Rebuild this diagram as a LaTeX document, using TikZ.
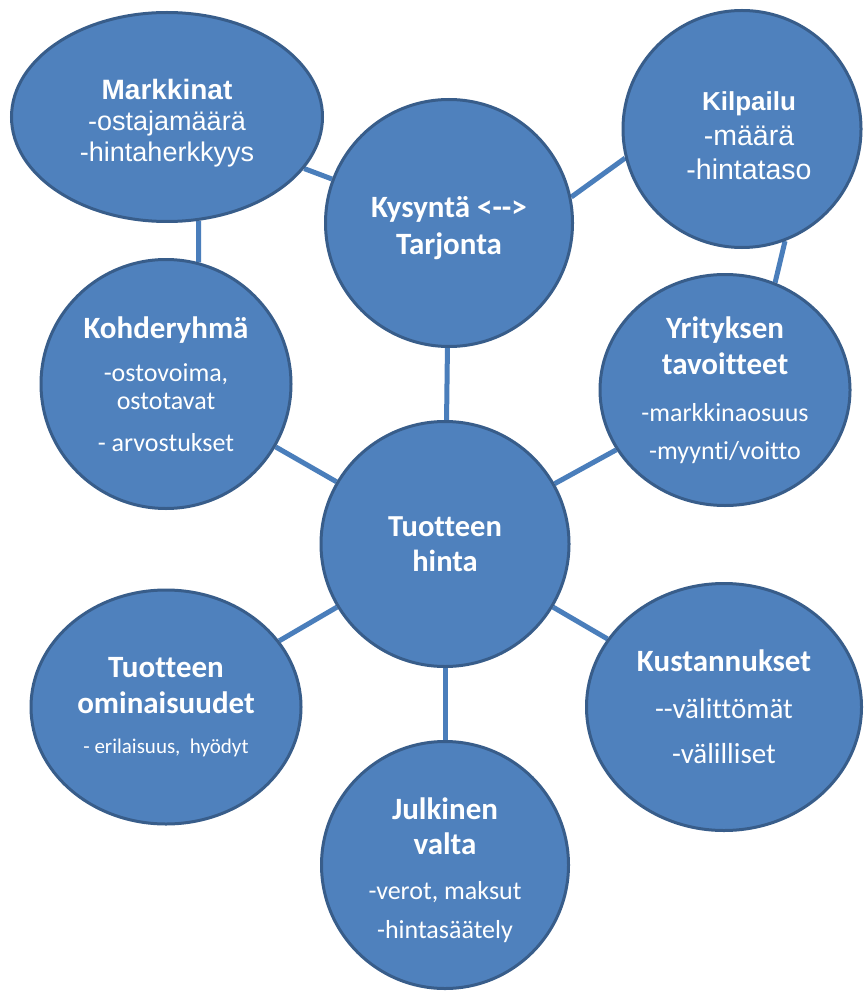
\documentclass[tikz,border=0pt]{standalone}
\usepackage{fontspec}
\setmainfont{Carlito}[Ligatures={NoCommon}]
\newfontfamily\arialf{Liberation Sans}
\usetikzlibrary{shapes.geometric,backgrounds}
\definecolor{bfill}{HTML}{4F81BD}
\definecolor{bdraw}{HTML}{385D8A}
\definecolor{bline}{HTML}{4A7EBB}
\newcommand{\mytitle}{\fontsize{31}{36}\selectfont\bfseries}
\newcommand{\lowered}[2]{\raisebox{0pt}[\dimexpr\height+#1\relax]{#2}}
\begin{document}
\begin{tikzpicture}[x=1pt,y=-1pt,
  bub/.style={ellipse, fill=bfill, draw=bdraw, line width=3pt, inner sep=0pt, text=white, align=center},
  conn/.style={draw=bline, line width=5pt}]
\useasboundingbox (0,0) rectangle (865,992);

\node[bub, minimum width=311pt, minimum height=209pt, font=\arialf\fontsize{27}{31}\selectfont] (mk) at (167,117)
  {\arialf\fontsize{28}{31}\selectfont\bfseries\lowered{13pt}{Markkinat}\\-ostajamäärä\\-hintaherkkyys};
\node[bub, minimum width=238pt, minimum height=237pt, font=\arialf\fontsize{28.5}{34.5}\selectfont] (kp) at (742,129)
  {\arialf\fontsize{26}{30}\selectfont\bfseries\hspace*{14pt}\lowered{14pt}{Kilpailu}\\\hspace*{14pt}-määrä\\\hspace*{14pt}-hintataso};
\node[bub, minimum width=247pt, minimum height=247pt, font=\fontsize{31}{37}\selectfont\bfseries] (ky) at (449,223)
  {\lowered{10pt}{Kysyntä <-{}->}\\Tarjonta};
\node[bub, minimum width=250pt, minimum height=249pt, font=\fontsize{26}{28}\selectfont] (kr) at (166,384)
  {\mytitle Kohderyhmä\\[15pt] -ostovoima,\\ ostotavat\\[14pt] - arvostukset};
\node[bub, minimum width=250pt, minimum height=231pt, font=\fontsize{26}{36}\selectfont] (yt) at (725,390)
  {\mytitle Yrityksen\\ \mytitle tavoitteet\\[11pt] -markkinaosuus\\[2pt] -myynti/voitto};
\node[bub, minimum width=248pt, minimum height=245pt, font=\fontsize{30.5}{35.5}\selectfont\bfseries] (th) at (445,544)
  {Tuotteen\\hinta};
\node[bub, minimum width=270pt, minimum height=234pt, font=\fontsize{21}{36}\selectfont] (to) at (166,707)
  {\mytitle Tuotteen\\ \mytitle ominaisuudet\\[4pt] - erilaisuus,~ hyödyt};
\node[bub, minimum width=275pt, minimum height=247pt, font=\fontsize{29}{45}\selectfont] (ku) at (724,707)
  {\mytitle Kustannukset\\[2pt] -{}-välittömät\\ -välilliset};
\node[bub, minimum width=247pt, minimum height=247pt, font=\fontsize{26}{35}\selectfont] (jv) at (445,865)
  {\mytitle\lowered{10pt}{Julkinen}\\ \mytitle valta\\[10pt] -verot, maksut\\[4pt] -hintasäätely};

\begin{scope}[on background layer]
\fill[white] (0,0) rectangle (865,992);
\draw[conn] (mk) -- (ky);
\draw[conn] (ky.12) -- (kp.194);
\draw[conn] (mk.-73) -- (kr.75);
\draw[conn] (kp.-69) -- (yt.65);
\draw[conn] (ky) -- (th);
\draw[conn] (kr) -- (th);
\draw[conn] (yt) -- (th);
\draw[conn] (to) -- (th);
\draw[conn] (ku) -- (th);
\draw[conn] (th) -- (jv);
\end{scope}
\end{tikzpicture}
\end{document}
